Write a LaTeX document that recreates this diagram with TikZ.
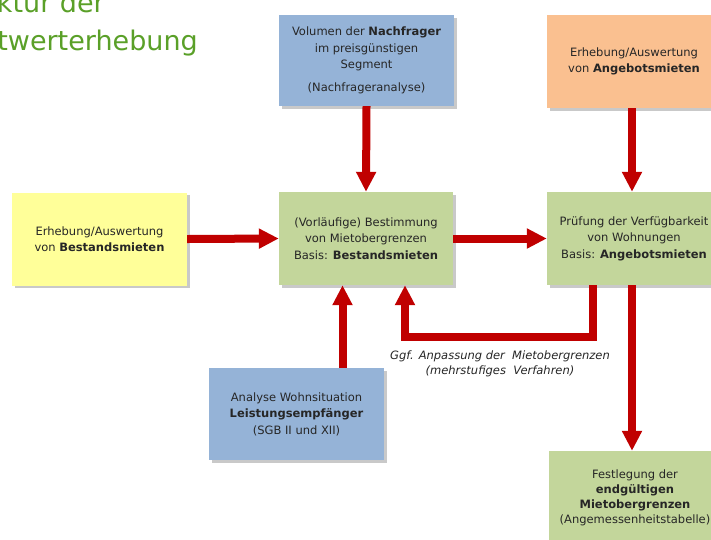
\documentclass[tikz,border=0pt]{standalone}
\usepackage{fontspec}
\setmainfont{DejaVu Sans}
\usetikzlibrary{arrows.meta,shadows}
\definecolor{boxblue}{RGB}{149,179,215}
\definecolor{boxgreen}{RGB}{195,214,155}
\definecolor{boxpeach}{RGB}{250,192,144}
\definecolor{boxyellow}{RGB}{255,255,153}
\definecolor{arrowred}{RGB}{192,0,0}
\definecolor{titlegreen}{RGB}{90,160,40}
\tikzset{
  box/.style={rectangle, inner sep=0pt, align=center, text=black!85,
    font=\fontsize{11.5}{16.5}\selectfont,
    drop shadow={shadow xshift=2.5pt, shadow yshift=-2.5pt, opacity=0.35, fill=black!60}},
  redarrow/.style={draw=arrowred, line width=8pt, -{Triangle[width=19pt,length=20pt]}, line join=miter},
  titletext/.style={text=titlegreen, font=\fontsize{27}{30}\selectfont, inner sep=0pt, anchor=base east},
  note/.style={font=\fontsize{11.5}{15}\selectfont\itshape, align=center, text=black!85, inner sep=0pt}
}
\begin{document}
\begin{tikzpicture}[x=1pt,y=-1pt]
\useasboundingbox (0,0) rectangle (711,539);
\clip (0,0) rectangle (711,539);
\fill[white] (0,0) rectangle (711,539);
% title
\node[titletext] (t1) at (105,12) {Struktur der};
\node[titletext] (t2) at (198,50) {Mietwerterhebung};
% boxes
\node[box, fill=boxblue, minimum width=175pt, minimum height=91pt] (nach) at (366.5,60.5)
  {Volumen der \textbf{Nachfrager}\\ im preisgünstigen\\ Segment\\[6pt] (Nachfrageranalyse)};
\node[box, fill=boxpeach, minimum width=174pt, minimum height=93pt] (ora) at (634,61.5)
  {Erhebung/Auswertung\\ von \textbf{Angebotsmieten}};
\node[box, fill=boxyellow, minimum width=175pt, minimum height=93pt] (yel) at (99.5,239)
  {Erhebung/Auswertung\\ von \textbf{Bestandsmieten}};
\node[box, fill=boxgreen, minimum width=174pt, minimum height=93pt] (mid) at (366,238.5)
  {(Vorläufige) Bestimmung\\ von Mietobergrenzen\\ Basis: \textbf{Bestandsmieten}};
\node[box, fill=boxgreen, minimum width=174pt, minimum height=93pt] (rg) at (634,238.5)
  {Prüfung der Verfügbarkeit\\ von Wohnungen\\ Basis: \textbf{Angebotsmieten}};
\node[box, fill=boxblue, minimum width=175pt, minimum height=92pt] (bb) at (296.5,414)
  {Analyse Wohnsituation\\ \textbf{Leistungsempfänger}\\ (SGB II und XII)};
\node[box, fill=boxgreen, minimum width=172pt, minimum height=94pt,
  font=\fontsize{11.5}{15}\selectfont] (fin) at (635,498)
  {Festlegung der\\ \textbf{endgültigen}\\ \textbf{Mietobergrenzen}\\ (Angemessenheitstabelle)};
% helper coordinates
\coordinate (bbx) at (342.5,0);
\coordinate (rgx) at (632,0);
\coordinate (fbR) at (593,337);
\coordinate (fbL) at (405,337);
% arrows
\draw[redarrow] (nach.south) -- (mid.north);
\draw[redarrow] (ora.south -| rgx) -- (rg.north -| rgx);
\draw[redarrow] (yel.east) -- (mid.west);
\draw[redarrow] (mid.east) -- (rg.west);
\draw[redarrow] (bb.north -| bbx) -- (mid.south -| bbx);
\draw[redarrow] (rg.south -| fbR) -- (fbR) -- (fbL) -- (mid.south -| fbL);
\draw[redarrow] (rg.south -| rgx) -- (fin.north -| rgx);
% note
\node[note] (lab) at (500,363.5) {Ggf. Anpassung der~ Mietobergrenzen\\ (mehrstufiges~ Verfahren)};
\end{tikzpicture}
\end{document}
